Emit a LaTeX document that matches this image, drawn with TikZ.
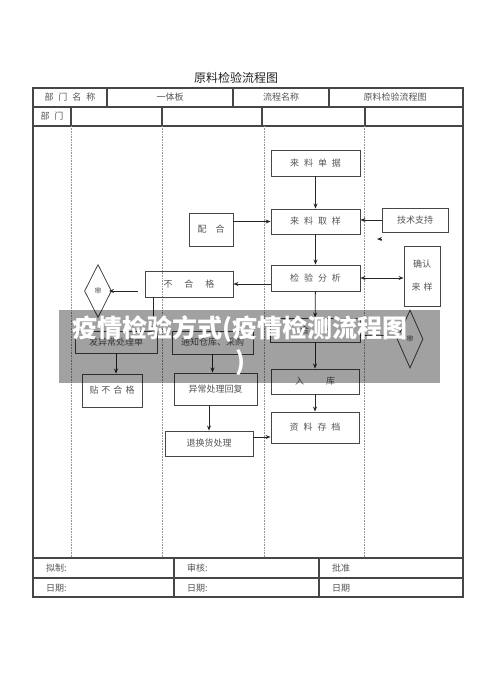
\documentclass[tikz,border=0pt]{standalone}
\usepackage{fontspec}
\setmainfont{Noto Sans CJK SC}
\usepackage{tikz}
\usetikzlibrary{shapes.geometric, arrows.meta, positioning, calc}
\definecolor{linegray}{RGB}{70,70,70}
\definecolor{txtgray}{RGB}{85,85,85}
\definecolor{lanegray}{RGB}{150,150,150}

\begin{document}
\begin{tikzpicture}[
    x=1pt, y=-1pt,
    box/.style={rectangle, draw=linegray, line width=0.9pt, inner sep=0pt, text=txtgray, font=\fontsize{9}{11}\selectfont},
    check/.style={diamond, draw=linegray, line width=0.8pt, inner sep=0pt, text=txtgray, font=\fontsize{7}{8}\selectfont},
    cell/.style={text=txtgray, font=\fontsize{9}{11}\selectfont, inner sep=0pt},
    frame/.style={draw=linegray, line width=1.3pt},
    lane/.style={draw=lanegray, densely dotted, line width=0.6pt},
    arrow/.style={draw=black!85, line width=0.8pt, -{Stealth[length=5pt, width=4pt]}},
    twoway/.style={draw=black!85, line width=0.8pt, {Stealth[length=5pt, width=4pt]}-{Stealth[length=5pt, width=4pt]}}
]
    \useasboundingbox (0,0) rectangle (500,695);
    \fill[white] (0,0) rectangle (500,695);

    % title and header rows
    \node[font=\fontsize{12}{14}\selectfont, text=black!85] (title) at (236,78) {原料检验流程图};
    \draw[frame] (33,88) rectangle (463,597);
    \draw[frame] (33,107) -- (463,107);
    \draw[frame] (33,126) -- (463,126);
    \draw[frame] (33,558) -- (463,558);
    \draw[frame] (33,578) -- (463,578);
    \foreach \x in {107,233,329} \draw[frame] (\x,88) -- (\x,107);
    \foreach \x in {71,162,262,365} \draw[frame] (\x,107) -- (\x,126);
    \foreach \x in {174,319} \draw[frame] (\x,558) -- (\x,597);
    \foreach \x in {71,162,264,364} \draw[lane] (\x,126) -- (\x,558);

    \node[cell] (dept) at (70,97) {部\hspace{5pt}门\hspace{5pt}名\hspace{5pt}称};
    \node[cell] (board) at (170,97) {一体板};
    \node[cell] (flowname) at (281,97) {流程名称};
    \node[cell] (flowval) at (395,97) {原料检验流程图};
    \node[cell] (lanehead) at (52,116) {部\hspace{5pt}门};

    \node[cell, anchor=west] (draft) at (46,568) {拟制:};
    \node[cell, anchor=west] (review) at (187,568) {审核:};
    \node[cell, anchor=west] (approve) at (332,568) {批准};
    \node[cell, anchor=west] (date1) at (46,588) {日期:};
    \node[cell, anchor=west] (date2) at (187,588) {日期:};
    \node[cell, anchor=west] (date3) at (332,588) {日期};

    % flow boxes
    \node[box, minimum width=89, minimum height=26] (danju) at (315.5,163) {来\hspace{5pt}料\hspace{5pt}单\hspace{5pt}据};
    \node[box, minimum width=89, minimum height=25] (quyang) at (315.5,221.5) {来\hspace{5pt}料\hspace{5pt}取\hspace{5pt}样};
    \node[box, minimum width=44, minimum height=33] (peihe) at (211,229.5) {配\hspace{9pt}合};
    \node[box, minimum width=66, minimum height=24] (jishu) at (415,220) {技术支持};
    \node[box, minimum width=36, minimum height=60, align=center] (queren) at (422,276) {确认\\[12pt]来\hspace{3pt}样};
    \node[box, minimum width=89, minimum height=26] (fenxi) at (315.5,278) {检\hspace{5pt}验\hspace{5pt}分\hspace{5pt}析};
    \node[box, minimum width=88, minimum height=26] (buhege) at (189,284) {不\hspace{12pt}合\hspace{12pt}格};
    \node[box, minimum width=90, minimum height=24] (hege) at (315,330) {合\hspace{12pt}格};
    \node[box, minimum width=88, minimum height=25] (ruku) at (315,381.5) {入\hspace{22pt}库};
    \node[box, minimum width=88, minimum height=31] (cundang) at (315,427.5) {资\hspace{5pt}料\hspace{5pt}存\hspace{5pt}档};
    \node[box, minimum width=82, minimum height=22] (fayichang) at (116,342) {发异常处理单};
    \node[box, minimum width=81, minimum height=23] (tongzhi) at (212.5,342.5) {通知仓库、采购};
    \node[box, minimum width=60, minimum height=33] (tiebuhege) at (112,390.5) {贴\hspace{3pt}不\hspace{3pt}合\hspace{3pt}格};
    \node[box, minimum width=83, minimum height=32] (huifu) at (215.5,389) {异常处理回复};
    \node[box, minimum width=88, minimum height=25] (tuihuan) at (209,443.5) {退换货处理};
    \node[check, minimum width=27, minimum height=53] (shen1) at (98,291) {审};
    \node[check, minimum width=26, minimum height=58] (shen2) at (410,339) {审};
    \coordinate (stray) at (382,239);

    % connectors
    \draw[arrow] (danju) -- (quyang);
    \draw[arrow] (quyang) -- (fenxi);
    \draw[arrow] (peihe.east |- quyang.west) -- (quyang.west);
    \draw[arrow] (jishu.west) -- (jishu.west -| quyang.east);
    \draw[arrow] (stray) -- ++(-5,0);
    \draw[twoway] (fenxi.east) -- (fenxi.east -| queren.west);
    \draw[arrow] (buhege.east -| fenxi.west) -- (buhege.east);
    \draw[arrow, shorten >=4pt] ([shift={(-7,7)}]buhege.west) -- ([shift={(-7,7)}]buhege.west -| shen1.east);
    \draw[arrow] ([xshift=-36pt]buhege.south) -- ([xshift=-36pt]buhege.south |- fayichang.north);
    \draw[arrow] (fayichang.south) -- (fayichang.south |- tiebuhege.north);
    \draw[arrow] (tongzhi.south) -- (tongzhi.south |- huifu.north);
    \draw[arrow] (tuihuan.north |- huifu.south) -- (tuihuan.north);
    \draw[arrow] ([yshift=6.5pt]tuihuan.east) -- ([yshift=6.5pt]tuihuan.east -| cundang.west);
    \draw[arrow] (fenxi) -- (hege);
    \draw[arrow] (hege) -- (ruku);
    \draw[arrow] (ruku) -- (cundang);
    \draw[arrow] ([yshift=-5pt]hege.east) -- ([yshift=-5pt]hege.east -| shen2.west);

    % overlay banner
    \node[fill=black, fill opacity=0.37, minimum width=381, minimum height=73, inner sep=0pt] (banner) at (249.5,346.5) {};
    \node[text=white, font=\fontsize{25}{33}\selectfont\bfseries, align=center, inner sep=0pt] (bannertext) at (240,346) {疫情检验方式(疫情检测流程图\\)};
\end{tikzpicture}
\end{document}
